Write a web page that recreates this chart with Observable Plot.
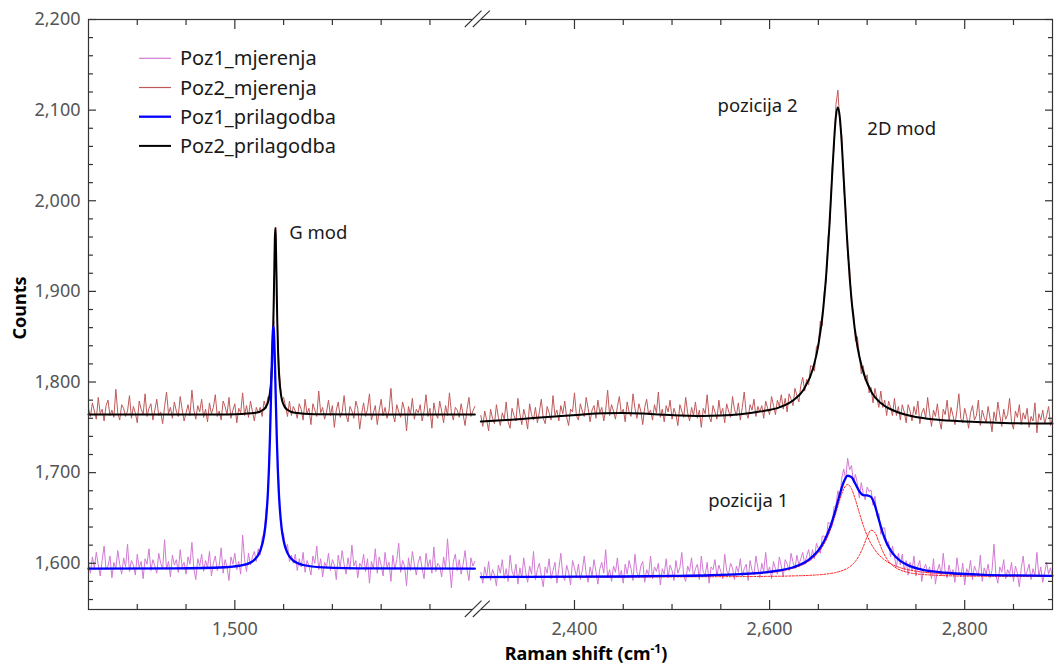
<!DOCTYPE html>
<html><head><meta charset="utf-8">
<script src="https://cdn.jsdelivr.net/npm/d3@7"></script>
<script src="https://cdn.jsdelivr.net/npm/@observablehq/plot@0.6"></script>
<style>
html,body{margin:0;padding:0;background:#fff;}
#chart svg{display:block;}
</style>
</head><body><div id="chart"></div>
<script>
// ---------- data ----------
const seriesNames = ["Poz1_mjerenja", "Poz2_mjerenja", "Poz1_prilagodba", "Poz2_prilagodba"];
const xDomain = [1350, 1746, 2304, 2890];           // broken axis: two segments
const yDomain = [1549, 2200];
const xMajorTicks = [1500, 2400, 2600, 2800];
const xMinorTicks = [1400, 1450, 1550, 1600, 1650, 1700, 2350, 2450, 2500, 2550, 2650, 2700, 2750, 2850];
const yMajorTicks = [1600, 1700, 1800, 1900, 2000, 2100, 2200];
const yMinorTicks = [1560,1580,1620,1640,1660,1680,1720,1740,1760,1780,1820,1840,1860,1880,1920,1940,1960,1980,2020,2040,2060,2080,2120,2140,2160,2180];

// measurement grid: start + 2*i (cm^-1)
const measStep = 2;
const leftStart = 1350;
const rightStart = 2304;

const poz1MeasLeft = [
1600,1589,1607,1595,1612,1598,1586,1603,1619,1593,
1597,1608,1584,1601,1594,1614,1599,1588,1606,1596,
1621,1591,1603,1598,1587,1610,1595,1602,1583,1605,
1599,1616,1592,1604,1597,1589,1611,1600,1594,1626,
1593,1602,1585,1609,1598,1604,1590,1615,1596,1601,
1588,1607,1599,1623,1594,1582,1605,1597,1610,1591,
1603,1595,1613,1586,1600,1608,1592,1598,1617,1589,
1604,1596,1581,1607,1599,1611,1593,1602,1588,1631,
1604,1591,1611,1598,1607,1613,1602,1616,
1609,1628,1634,1659,1674,1746,1837,1867,1776,1714,1667,1632,1633,1615,1621,1602,1609,1600,
1610,1592,1605,1596,
1612,1590,1603,1597,1587,1608,1600,1619,1593,1605,
1585,1601,1596,1611,1592,1604,1598,1582,1609,1595,
1614,1599,1588,1606,1593,1620,1597,1603,1584,1600,
1596,1610,1591,1605,1578,1602,1594,1616,1589,1607,
1598,1586,1612,1595,1601,1580,1609,1593,1604,1622,
1590,1603,1597,1575,1606,1592,1613,1599,1587,1601,
1608,1594,1583,1611,1596,1604,1589,1618,1591,1600,
1597,1585,1607,1594,1627,1598,1573,1602,1610,1592,
1604,1588,1599,1614,1593,1581,1606,1597,1602];

const poz2MeasLeft = [
1771,1762,1777,1768,1759,1783,1765,1770,1757,1774,
1780,1763,1769,1761,1792,1766,1758,1775,1771,1762,
1768,1785,1760,1773,1766,1755,1779,1770,1764,1787,
1762,1771,1776,1758,1769,1781,1763,1767,1754,1773,
1789,1765,1772,1760,1778,1768,1762,1784,1770,1757,
1766,1775,1763,1791,1769,1759,1774,1767,1781,1761,
1770,1756,1777,1765,1772,1786,1762,1768,1758,1779,
1773,1764,1783,1760,1769,1776,1755,1771,1766,1788,
1763,1774,1761,1779,1768,1757,1772,1766,
1772,1762,1779,1771,1784,1784,1823,1889,1971,1850,1807,1779,1783,1773,1762,1779,1763,1773,
1768,1760,1776,1770,
1758,1781,1765,1771,1753,1776,1769,1762,1790,1766,
1772,1759,1767,1780,1763,1774,1750,1769,1778,1761,
1767,1785,1764,1756,1773,1768,1760,1779,1771,1748,
1765,1777,1762,1770,1787,1758,1766,1774,1753,1769,
1781,1763,1772,1760,1768,1793,1765,1756,1775,1767,
1761,1778,1769,1746,1773,1764,1782,1759,1770,1766,
1775,1757,1768,1786,1762,1771,1749,1777,1765,1760,
1779,1768,1755,1774,1763,1788,1766,1758,1772,1769,
1761,1776,1764,1752,1770,1783,1762,1768,1773];

const poz1MeasRight = [
1590,1578,1596,1585,1602,1581,1593,1587,1575,1598,
1589,1604,1583,1594,1580,1609,1591,1586,1599,1577,
1595,1584,1606,1590,1579,1597,1588,1613,1582,1593,
1600,1586,1574,1596,1589,1605,1583,1592,1601,1578,
1594,1611,1587,1581,1598,1590,1576,1603,1595,1585,
1599,1582,1592,1608,1588,1579,1596,1586,1604,1591,
1577,1594,1601,1589,1615,1584,1593,1580,1597,1590,
1606,1585,1592,1578,1599,1588,1603,1594,1581,1610,
1590,1584,1597,1602,1579,1593,1587,1608,1583,1596,
1591,1600,1576,1594,1588,1605,1584,1598,1592,1581,
1603,1589,1595,1612,1586,1580,1597,1591,1606,1585,
1594,1599,1582,1608,1590,1587,1601,1578,1596,1593,
1604,1586,1598,1591,1583,1610,1592,1588,1600,1595,
1582,1597,1590,1605,1586,1594,1599,1581,1603,1592,
1587,1608,1595,1584,1600,1591,1612,1589,1596,1583,
1602,1594,1588,1607,1597,1585,1604,1599,1592,1611,
1601,1594,1609,1598,1605,1612,1599,1608,1615,1603,
1615,1605,1622,1616,1611,1630,1630,1626,1645,1644,
1641,1662,1664,1680,1672,1694,1704,1692,1716,1703,
1708,1689,1698,1688,1672,1689,1677,1670,1684,1679,
1681,1664,1674,1652,1655,1632,1639,1639,1619,1624,
1607,1619,1607,1596,1611,1598,1610,1592,1603,1587,
1601,1592,1608,1586,1597,1603,1580,1594,1599,1589,
1596,1583,1605,1577,1592,1599,1586,1611,1590,1584,
1598,1587,1593,1579,1606,1591,1585,1600,1576,1594,
1589,1603,1582,1597,1591,1586,1609,1580,1595,1588,
1599,1584,1592,1621,1587,1578,1596,1590,1604,1583,
1593,1588,1601,1580,1597,1589,1574,1595,1608,1586,
1591,1599,1582,1594,1587,1612,1585,1596,1579,1590,
1601,1588,1595,1584];

const poz2MeasRight = [
1763,1751,1768,1758,1746,1770,1760,1754,1775,1761,
1752,1766,1759,1778,1756,1749,1771,1763,1757,1782,
1765,1753,1770,1761,1748,1776,1764,1758,1772,1755,
1767,1781,1760,1754,1773,1766,1758,1785,1763,1769,
1757,1774,1765,1779,1761,1752,1770,1767,1788,1763,
1758,1776,1768,1762,1783,1771,1756,1769,1774,1760,
1780,1766,1772,1757,1769,1791,1763,1775,1768,1759,
1773,1784,1765,1770,1756,1778,1767,1762,1787,1771,
1760,1776,1768,1753,1772,1781,1764,1769,1758,1775,
1766,1789,1761,1770,1756,1774,1767,1780,1759,1771,
1764,1752,1775,1768,1761,1783,1766,1757,1772,1763,
1778,1760,1769,1750,1771,1765,1786,1762,1756,1774,
1767,1759,1780,1764,1771,1755,1776,1768,1761,1784,
1770,1763,1777,1758,1772,1789,1766,1760,1775,1769,
1781,1762,1773,1767,
1774,1760,1779,1771,1764,1784,1774,1764,1780,1773,
1786,1770,1782,1767,1787,1781,1774,1793,1785,1778,
1796,1805,1790,1803,1797,1818,1817,1812,1839,1842,
1867,1862,1900,1911,1960,1977,2036,2058,2106,2122,
2086,2072,2014,1991,1939,1927,1886,1878,1845,1850,
1830,1809,1818,1802,1808,1788,1794,1777,1793,1782,
1772,1790,1772,1780,1763,1779,1772,1763,1782,1763,
1773,1758,1775,1767,1755,1775,
1768,1757,1773,1764,1779,1754,1766,1771,1760,1783,
1765,1751,1769,1762,1776,1758,1748,1770,1764,1780,
1757,1772,1763,1753,1768,1787,1760,1755,1771,1762,
1749,1766,1774,1758,1763,1780,1752,1769,1761,1756,
1773,1760,1745,1767,1757,1778,1763,1751,1770,1759,
1764,1782,1756,1748,1768,1761,1775,1753,1766,1759,
1771,1750,1762,1757,1777,1744,1765,1758,1769,1754,
1763,1773,1752,1760];

// fitted curves
const fit1LeftX = [1350,1440,1490,1510,1520,1526,1530,1532,1534,1535,1536,1537,1538,1539,1539.5,1540,1541,1542,1543,1544,1545,1546,1548,1550,1554,1560,1570,1590,1640,1746];
const fit1LeftY = [1594.1,1594.4,1595.6,1598.4,1603.8,1613.6,1630.8,1648.5,1680.3,1705.2,1738.5,1780.3,1825,1856.5,1861,1856.5,1825,1780.3,1738.5,1705.2,1680.3,1662,1638.5,1624.9,1611.2,1602.9,1598.1,1595.5,1594.4,1594.1];

const fit2LeftX = [1350,1440,1480,1501.5,1521.5,1529.5,1533.5,1535.5,1537.5,1538.5,1539.5,1540,1540.5,1541,1541.5,1542,1542.5,1543,1543.5,1544.5,1545.5,1547.5,1549.5,1553.5,1561.5,1581.5,1641.5,1746];
const fit2LeftY = [1764.1,1764.1,1764.2,1764.5,1766,1769.6,1776.1,1784.6,1805.2,1827.4,1867,1895.8,1928.8,1957.9,1970,1957.9,1928.8,1895.8,1867,1827.4,1805.2,1784.6,1776.1,1769.6,1766,1764.5,1764.1,1764.1];

const fit2RightX = [2304,2330,2355,2380,2406,2430,2450,2470,2490,2510,2530,2550,2570,2590,2610,2625,2635,2645,2650,2655,2658,2661,2664,2666,2668,2670,2672,2674,2676,2679,2682,2685,2690,2695,2705,2715,2730,2750,2770,2800,2840,2890];
const fit2RightY = [1756.4,1758,1760,1762,1764,1765.5,1765.8,1765.2,1764,1763,1762.5,1763,1764.5,1767.4,1772,1780.4,1791.8,1816.6,1840.7,1880.9,1917.6,1966.5,2025.4,2064,2093,2103,2092,2063,2024.4,1965.5,1916.6,1879.8,1839.2,1814.9,1787.8,1775.9,1767.2,1761.4,1758.6,1756.4,1754.9,1754.2];

const fit1RightX = [2304,2350,2400,2450,2500,2540,2570,2590,2610,2625,2640,2650,2656,2662,2667,2672,2676,2680,2684,2688,2692,2696,2700,2704,2708,2712,2716,2720,2726,2734,2744,2756,2770,2790,2820,2850,2890];
const fit1RightY = [1584.8,1585.0,1585.2,1585.4,1586.0,1586.8,1588.0,1589.4,1592.1,1595.9,1603.8,1614.3,1624.6,1639.7,1656.6,1676.2,1689.7,1696.6,1695.0,1687.4,1679.4,1675.2,1674.8,1673.2,1663.6,1648.2,1633.6,1622.4,1611.2,1602.7,1596.9,1593.1,1590.7,1588.7,1587.3,1586.6,1586.2];
const comp1RightY = [1584.7,1584.9,1585.1,1585.3,1585.8,1586.6,1587.6,1588.8,1591.2,1594.8,1602.1,1611.9,1621.6,1635.9,1651.9,1670.1,1682.1,1686.9,1682.1,1670.1,1655.5,1641.9,1630.5,1621.6,1614.7,1609.4,1605.3,1602.1,1598.4,1595.1,1592.4,1590.4,1589.0,1587.7,1586.8,1586.2,1585.9];
const comp2RightY = [1584.55,1584.66,1584.8,1584.8,1585.0,1585.2,1585.3,1585.5,1585.7,1586.1,1586.6,1587.3,1587.8,1588.7,1589.6,1591.0,1592.5,1594.6,1597.7,1602.2,1608.8,1618.2,1629.2,1636.5,1633.8,1623.7,1613.2,1605.2,1597.7,1592.5,1589.4,1587.7,1586.8,1586.0,1585.7,1585.5,1585.4];

const annotations = [
  {x: 1555.7, y: 1964.5, text: "G mod"},
  {x: 2546.7, y: 2104.2, text: "pozicija 2"},
  {x: 2700.2, y: 2079.2, text: "2D mod"},
  {x: 2537.1, y: 1668.5, text: "pozicija 1"}
];

const colors = {
  poz1Meas: "#d27ad4",
  poz2Meas: "#bf5a5a",
  poz1Fit: "#0000ff",
  poz2Fit: "#000000",
  comp: "#ff1a1a"
};

// ---------- build tables ----------
const measRows = (vals, start, panel) => vals.map((v, i) => ({x: start + i * measStep, y: v, panel}));
const pairRows = (xs, ys, panel) => xs.map((x, i) => ({x, y: ys[i], panel}));

const meas1 = [...measRows(poz1MeasLeft, leftStart, "L"), ...measRows(poz1MeasRight, rightStart, "R")];
const meas2 = [...measRows(poz2MeasLeft, leftStart, "L"), ...measRows(poz2MeasRight, rightStart, "R")];
const fit1 = [...pairRows(fit1LeftX, fit1LeftY, "L"), ...pairRows(fit1RightX, fit1RightY, "R")];
const fit2 = [...pairRows(fit2LeftX, fit2LeftY, "L"), ...pairRows(fit2RightX, fit2RightY, "R")];
const comp1 = pairRows(fit1RightX, comp1RightY, "R");
const comp2 = pairRows(fit1RightX, comp2RightY, "R");

// ---------- layout ----------
const W = 1054, H = 664;
const mL = 88, mR = 2, mT = 19, mB = 55, gap = 6;
const FONT = "'Noto Sans', 'Open Sans', 'DejaVu Sans', sans-serif";
const span1 = xDomain[1] - xDomain[0], span2 = xDomain[3] - xDomain[2];
const k = (W - mL - mR - gap) / (span1 + span2);
const xRange = [mL, mL + span1 * k, mL + span1 * k + gap, W - mR];
const axisColor = "#333";
const fmt = d3.format(",");

const chart = Plot.plot({
  width: W, height: H,
  marginLeft: mL, marginRight: mR, marginTop: mT, marginBottom: mB,
  style: {fontFamily: FONT, fontSize: "18px", background: "#fff", color: axisColor},
  x: {type: "linear", domain: xDomain, range: xRange},
  y: {domain: yDomain},
  marks: [
    Plot.line(meas1, {x: "x", y: "y", z: "panel", stroke: colors.poz1Meas, strokeWidth: 1}),
    Plot.line(meas2, {x: "x", y: "y", z: "panel", stroke: colors.poz2Meas, strokeWidth: 1}),
    Plot.line(comp1, {x: "x", y: "y", stroke: colors.comp, strokeWidth: 1, strokeDasharray: "2,1.5", curve: "monotone-x"}),
    Plot.line(comp2, {x: "x", y: "y", stroke: colors.comp, strokeWidth: 1, strokeDasharray: "2,1.5", curve: "monotone-x"}),
    Plot.line(fit2, {x: "x", y: "y", z: "panel", stroke: colors.poz2Fit, strokeWidth: 2, curve: "monotone-x"}),
    Plot.line(fit1, {x: "x", y: "y", z: "panel", stroke: colors.poz1Fit, strokeWidth: 2.3, curve: "monotone-x"}),
    Plot.text(annotations, {x: "x", y: "y", text: "text", textAnchor: "start", fill: "#1a1a1a", fontSize: 18.5}),
    Plot.frame({stroke: axisColor, strokeWidth: 1.2}),
    // left axis ticks (inward)
    Plot.axisY({ticks: yMajorTicks, anchor: "left", tickSize: 8, dx: 8, fill: "none", stroke: axisColor, strokeWidth: 1.2, label: null}),
    Plot.axisY({ticks: yMinorTicks, anchor: "left", tickSize: 5, dx: 5, fill: "none", stroke: axisColor, strokeWidth: 1.2, label: null}),
    Plot.axisY({ticks: yMajorTicks, anchor: "left", tickSize: 0, tickPadding: 8, tickFormat: fmt, fill: "#555", label: null}),
    // right axis ticks
    Plot.axisY({ticks: yMajorTicks, anchor: "right", tickSize: 8, dx: -8, fill: "none", stroke: axisColor, strokeWidth: 1.2, label: null}),
    Plot.axisY({ticks: yMinorTicks, anchor: "right", tickSize: 5, dx: -5, fill: "none", stroke: axisColor, strokeWidth: 1.2, label: null}),
    // bottom axis
    Plot.axisX({ticks: xMajorTicks, anchor: "bottom", tickSize: 9, dy: -9, fill: "none", stroke: axisColor, strokeWidth: 1.2, label: null}),
    Plot.axisX({ticks: xMinorTicks, anchor: "bottom", tickSize: 5, dy: -5, fill: "none", stroke: axisColor, strokeWidth: 1.2, label: null}),
    Plot.axisX({ticks: xMajorTicks, anchor: "bottom", tickSize: 0, tickPadding: 13, tickFormat: fmt, fill: "#555", label: null}),
    // top axis
    Plot.axisX({ticks: xMajorTicks, anchor: "top", tickSize: 9, dy: 9, fill: "none", stroke: axisColor, strokeWidth: 1.2, label: null}),
    Plot.axisX({ticks: xMinorTicks, anchor: "top", tickSize: 5, dy: 5, fill: "none", stroke: axisColor, strokeWidth: 1.2, label: null})
  ]
});

document.getElementById("chart").appendChild(chart);

// ---------- decorations: axis break, legend, titles ----------
const svg = d3.select(chart);
const xs = chart.scale("x"), ys = chart.scale("y");
const bx = (xs.apply(xDomain[1]) + xs.apply(xDomain[2])) / 2;
const yTop = ys.apply(yDomain[1]), yBot = ys.apply(yDomain[0]);
const brk = svg.append("g");
for (const yy of [yTop, yBot]) {
  brk.append("path")
    .attr("d", `M${bx-12.5},${yy+8} L${bx+4.2},${yy-8.3} L${bx+12.5},${yy-8.3} L${bx-4.5},${yy+8} Z`)
    .attr("fill", "#fff").attr("stroke", "none");
  brk.append("line").attr("x1", bx-12.5).attr("y1", yy+8).attr("x2", bx+4.2).attr("y2", yy-8.3)
    .attr("stroke", axisColor).attr("stroke-width", 1.1);
  brk.append("line").attr("x1", bx-4.5).attr("y1", yy+8).attr("x2", bx+12.5).attr("y2", yy-8.3)
    .attr("stroke", axisColor).attr("stroke-width", 1.1);
}

const legendItems = [
  {name: seriesNames[0], color: colors.poz1Meas, w: 1.2},
  {name: seriesNames[1], color: colors.poz2Meas, w: 1.2},
  {name: seriesNames[2], color: colors.poz1Fit, w: 2.3},
  {name: seriesNames[3], color: colors.poz2Fit, w: 2}
];
const lg = svg.append("g").attr("font-family", FONT).attr("font-size", 20).attr("text-anchor", "start");
legendItems.forEach((d, i) => {
  const yy = 58.3 + i * 29.2;
  lg.append("line").attr("x1", 139).attr("x2", 171).attr("y1", yy).attr("y2", yy)
    .attr("stroke", d.color).attr("stroke-width", d.w);
  lg.append("text").attr("x", 180).attr("y", yy).attr("dy", "0.35em")
    .attr("text-anchor", "start")
    .attr("fill", "#1a1a1a").text(d.name);
});

svg.append("text")
  .attr("transform", `translate(20,${(yTop + yBot) / 2 - 6}) rotate(-90)`)
  .attr("text-anchor", "middle").attr("dy", "0.35em")
  .attr("font-family", FONT).attr("font-size", 18).attr("font-weight", "bold").attr("fill", "#000")
  .text("Counts");

const xt = svg.append("text")
  .attr("x", 586).attr("y", 660)
  .attr("text-anchor", "middle")
  .attr("font-family", FONT).attr("font-size", 18).attr("font-weight", "bold").attr("fill", "#000");
xt.append("tspan").text("Raman shift (cm");
xt.append("tspan").attr("font-size", 12).attr("dy", -7).text("-1");
xt.append("tspan").attr("dy", 7).text(")");
</script>
</body></html>
